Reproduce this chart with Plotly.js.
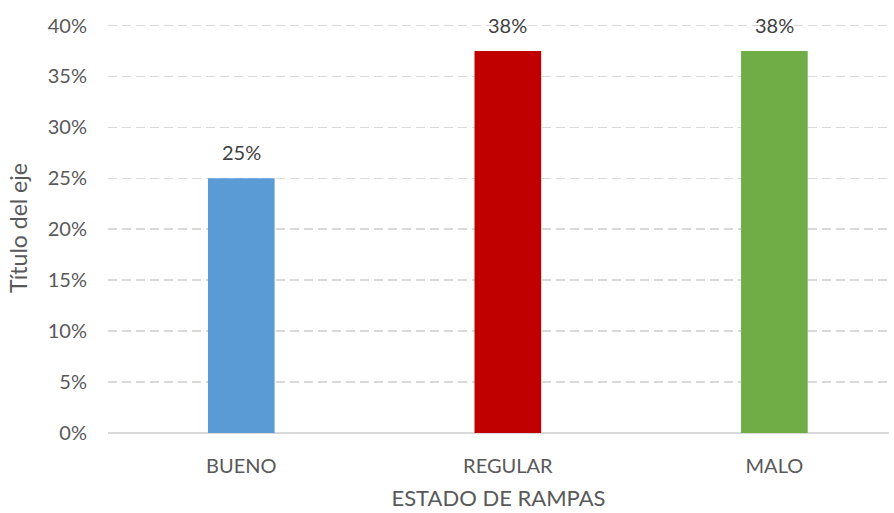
<!DOCTYPE html>
<html>
<head>
<meta charset="utf-8">
<script src="https://cdn.plot.ly/plotly-3.0.1.min.js"></script>
<style>html,body{margin:0;padding:0;background:#fff;}#chart{width:894px;height:513px;}</style>
</head>
<body>
<div id="chart"></div>
<script>
var categories = ["BUENO", "REGULAR", "MALO"];
var values = [0.25, 0.375, 0.375];
var colors = ["#5B9BD5", "#C00000", "#70AD47"];
var yTickVals = [0, 0.05, 0.10, 0.15, 0.20, 0.25, 0.30, 0.35, 0.40];
var yTickText = ["0%", "5%", "10%", "15%", "20%", "25%", "30%", "35%", "40%"];

var fontFam = "Lato, 'Open Sans', sans-serif";
var trace = {
  type: "bar",
  x: categories,
  y: values,
  width: 0.25,
  marker: {color: colors},
  hoverinfo: "none"
};
var annotations = categories.map(function(c, i) {
  return {
    x: c, y: values[i], xref: "x", yref: "y",
    text: Math.round(values[i] * 100) + "%",
    showarrow: false, yanchor: "bottom", yshift: 12,
    font: {family: fontFam, size: 20, color: "#404040"}
  };
});
var layout = {
  width: 894, height: 513,
  margin: {l: 108, r: 5, t: 23, b: 80},
  paper_bgcolor: "#fff", plot_bgcolor: "#fff",
  showlegend: false,
  xaxis: {
    range: [-0.5, 2.43],
    showgrid: false, zeroline: false,
    showline: false, ticks: "",
    tickfont: {family: fontFam, size: 20, color: "#595959"},
    ticklabelstandoff: 19,
    title: {text: "ESTADO DE RAMPAS", font: {family: fontFam, size: 22, color: "#595959"}, standoff: 14},
    fixedrange: true
  },
  yaxis: {
    range: [0, 0.4025],
    tickvals: yTickVals, ticktext: yTickText,
    showgrid: true, gridcolor: "#D9D9D9", griddash: "9px,5px", gridwidth: 1.6,
    zeroline: true, zerolinecolor: "#D9D9D9", zerolinewidth: 1.6,
    showline: false, ticks: "",
    tickfont: {family: fontFam, size: 20, color: "#595959"},
    ticklabelstandoff: 20,
    title: {text: "Título del eje", font: {family: fontFam, size: 23, color: "#595959"}, standoff: 13},
    fixedrange: true
  },
  annotations: annotations
};
Plotly.newPlot("chart", [trace], layout, {displayModeBar: false, staticPlot: true});
</script>
</body>
</html>
